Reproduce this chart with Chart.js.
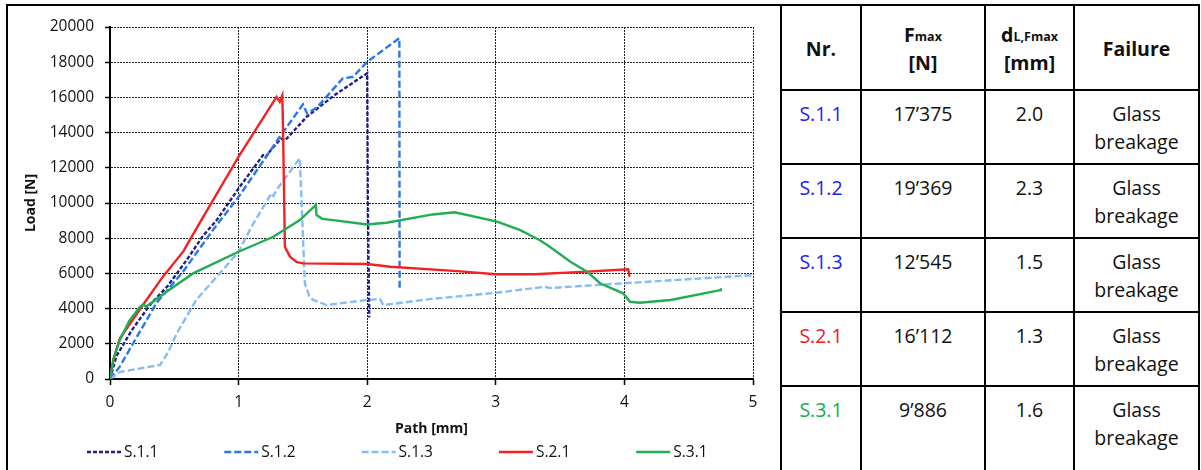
<!DOCTYPE html>
<html>
<head>
<meta charset="utf-8">
<script src="https://cdn.jsdelivr.net/npm/chart.js@4.4.0/dist/chart.umd.min.js"></script>
<style>
  html, body { margin: 0; padding: 0; background: #fff; }
  body { width: 1201px; height: 470px; overflow: hidden; position: relative; font-family: "Open Sans", sans-serif; }
  #frame { position: absolute; left: 6px; top: 4px; width: 780px; height: 480px; border-left: 2px solid #000; border-top: 2px solid #000; box-sizing: border-box; }
  #wrap { position: absolute; left: 0; top: 0; width: 780px; height: 470px; }
  table { position: absolute; left: 780px; top: 4px; border-collapse: collapse; table-layout: fixed; }
  th, td { border: 2px solid #000; text-align: center; padding: 0; font-size: 19.5px; color: #111; }
  th { font-weight: bold; height: 81px; vertical-align: middle; line-height: 25px; padding-top: 2px; }
  th sub { font-size: 12.5px; vertical-align: 0; position: relative; top: -1px; }
  td { vertical-align: top; height: 74px; line-height: 28px; padding-top: 9px; box-sizing: border-box; }
  tr.ultima td { height: 100px; }
  .s1 { color: #2121f0; }
  .s2 { color: #f21a1a; }
  .s3 { color: #16ad50; }
</style>
</head>
<body>
<div id="frame"></div>
<div id="wrap"><canvas id="grafica" width="780" height="470"></canvas></div>

<table>
  <colgroup><col style="width:80px"><col style="width:124px"><col style="width:89px"><col style="width:125px"></colgroup>
  <tr><th>Nr.</th><th>F<sub>max</sub><br>[N]</th><th>d<sub>L,Fmax</sub><br>[mm]</th><th>Failure</th></tr>
  <tr><td class="s1">S.1.1</td><td>17’375</td><td>2.0</td><td>Glass<br>breakage</td></tr>
  <tr><td class="s1">S.1.2</td><td>19’369</td><td>2.3</td><td>Glass<br>breakage</td></tr>
  <tr><td class="s1">S.1.3</td><td>12’545</td><td>1.5</td><td>Glass<br>breakage</td></tr>
  <tr><td class="s2">S.2.1</td><td>16’112</td><td>1.3</td><td>Glass<br>breakage</td></tr>
  <tr class="ultima"><td class="s3">S.3.1</td><td>9’886</td><td>1.6</td><td>Glass<br>breakage</td></tr>
</table>

<script>
// datos: recorrido [mm] y carga [N]
const pathS11 = [0, 0.05, 0.17, 0.31, 0.45, 0.60, 0.72, 0.83, 1.00, 1.19, 1.21, 1.25, 1.33, 1.36, 1.53, 1.75, 2.00, 2.005, 2.016];
const loadS11 = [0, 1300, 2780, 4200, 5300, 6800, 8100, 9030, 10830, 12720, 12600, 13000, 13650, 13550, 14900, 16150, 17375, 10000, 3500];

const pathS12 = [0, 0.076, 0.18, 0.36, 0.568, 0.80, 1.00, 1.33, 1.50, 1.533, 1.61, 1.81, 1.89, 2.00, 2.25, 2.252];
const loadS12 = [0, 700, 2030, 4300, 6100, 8460, 10350, 13860, 15600, 15090, 15430, 17080, 17170, 18020, 19369, 5150];

const pathS13 = [0, 0.08, 0.39, 0.45, 0.52, 0.67, 0.83, 1.00, 1.10, 1.256, 1.27, 1.30, 1.476, 1.49, 1.515, 1.55, 1.58, 1.684, 2.00, 2.10, 2.125, 2.50, 3.00, 3.38, 3.42, 4.00, 5.00];
const loadS13 = [0, 400, 800, 1500, 2600, 4490, 5810, 7230, 8650, 10550, 10400, 10800, 12545, 9980, 5440, 4700, 4490, 4200, 4490, 4540, 4200, 4550, 4900, 5240, 5170, 5440, 5900];

const pathS21 = [0, 0.03, 0.076, 0.26, 0.41, 0.57, 0.70, 1.00, 1.295, 1.32, 1.34, 1.346, 1.36, 1.40, 1.45, 1.50, 2.00, 2.18, 2.70, 3.00, 3.30, 3.71, 3.83, 4.03, 4.04];
const loadS21 = [0, 1200, 2300, 4250, 5800, 7250, 8900, 12630, 16030, 15750, 16112, 14000, 7510, 6950, 6650, 6570, 6530, 6380, 6130, 5950, 5950, 6100, 6150, 6230, 5810];

const pathS31 = [0, 0.025, 0.076, 0.15, 0.23, 0.26, 0.28, 0.44, 0.646, 1.00, 1.27, 1.476, 1.60, 1.606, 1.65, 1.735, 2.00, 2.15, 2.51, 2.68, 3.01, 3.19, 3.34, 3.40, 3.58, 3.71, 3.81, 3.99, 4.044, 4.12, 4.36, 4.745, 4.75];
const loadS31 = [0, 1080, 2215, 3300, 4070, 4250, 4100, 4960, 6000, 7230, 8080, 9030, 9886, 9315, 9100, 9030, 8780, 8880, 9350, 9470, 8940, 8460, 7900, 7610, 6660, 6100, 5440, 4870, 4390, 4330, 4490, 5050, 5150];

const seriesNames = ['S.1.1', 'S.1.2', 'S.1.3', 'S.2.1', 'S.3.1'];
const seriesColors = ['#1f1f8c', '#2a78ee', '#86bdf4', '#f42222', '#20ae52'];
const seriesDash = [[4, 2], [7, 3], [7, 3], [], []];

const seriesPath = [pathS11, pathS12, pathS13, pathS21, pathS31];
const seriesLoad = [loadS11, loadS12, loadS13, loadS21, loadS31];

const ctx = document.getElementById('grafica');

const toPoints = (xs, ys) => xs.map((x, i) => ({ x: x, y: ys[i] }));

// leyenda abajo, con lineas y espacios como en el original
const leyendaAbajo = {
  id: 'leyendaAbajo',
  afterDraw(chart) {
    const c = chart.ctx;
    c.save();
    c.font = '15.5px "Open Sans"';
    c.textBaseline = 'middle';
    chart.data.datasets.forEach((ds, i) => {
      const x0 = 87 + i * 137.3;
      const y = 452;
      c.strokeStyle = ds.borderColor;
      c.lineWidth = ds.borderWidth;
      c.setLineDash(ds.borderDash);
      c.beginPath();
      c.moveTo(x0, y);
      c.lineTo(x0 + 34, y);
      c.stroke();
      c.setLineDash([]);
      c.fillStyle = '#111';
      c.fillText(ds.label, x0 + 37, y + 1);
    });
    c.restore();
  }
};

const grafica = new Chart(ctx, {
  type: 'line',
  data: {
    datasets: seriesNames.map((name, i) => ({
      label: name,
      data: toPoints(seriesPath[i], seriesLoad[i]),
      borderColor: seriesColors[i],
      borderDash: seriesDash[i],
      borderWidth: 2.4,
      pointRadius: 0,
      tension: 0,
      fill: false,
      order: 4 - i
    }))
  },
  options: {
    responsive: false,
    animation: false,
    layout: { padding: { left: 20, right: 27, top: 27, bottom: 31 } },
    plugins: {
      legend: { display: false },
      tooltip: { enabled: false }
    },
    scales: {
      x: {
        type: 'linear',
        min: 0,
        max: 5,
        ticks: { stepSize: 1, color: '#111', padding: 8, font: { family: 'Open Sans', size: 15.5 } },
        grid: { color: '#222', lineWidth: 1, tickColor: '#000', tickLength: 6, tickWidth: 1.5, tickBorderDash: [] },
        border: { color: '#000', width: 2, dash: [2, 1] },
        title: { display: true, text: 'Path [mm]', color: '#111', padding: { top: 0, bottom: 2 }, font: { family: 'Open Sans', size: 14, weight: 'bold' } },
        afterFit: (scale) => { scale.height = 60; }
      },
      y: {
        min: 0,
        max: 20000,
        ticks: { stepSize: 2000, color: '#111', padding: 11, font: { family: 'Open Sans', size: 15.5 }, callback: (v) => String(v) },
        grid: { color: '#222', lineWidth: 1, tickColor: '#000', tickLength: 5, tickWidth: 1.5, tickBorderDash: [] },
        border: { color: '#000', width: 2, dash: [2, 1] },
        title: { display: true, text: 'Load [N]', color: '#111', padding: { top: 3, bottom: 0 }, font: { family: 'Open Sans', size: 14, weight: 'bold' } },
        afterFit: (scale) => { scale.width = 90; }
      }
    }
  },
  plugins: [leyendaAbajo]
});
</script>
</body>
</html>
